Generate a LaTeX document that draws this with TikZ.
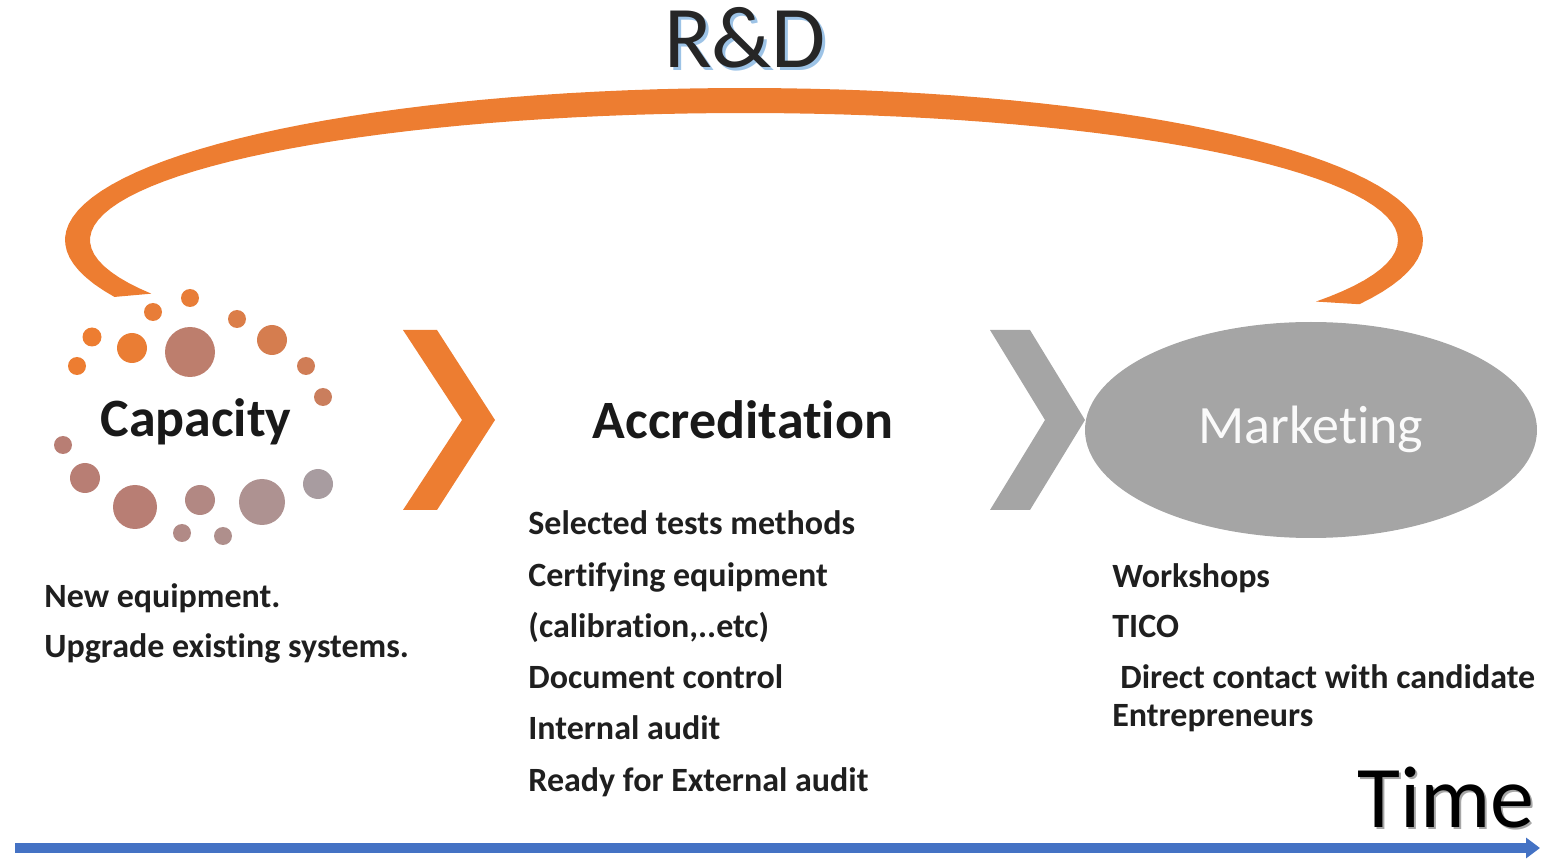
\documentclass[tikz,border=0pt]{standalone}
\usepackage{fontspec}
\setmainfont{Carlito}[Ligatures=NoCommon]
\usetikzlibrary{arrows.meta}
\usetikzlibrary{shapes.geometric}
\definecolor{rdorange}{HTML}{ED7D31}
\definecolor{rdgray}{HTML}{A5A5A5}
\definecolor{rdblue}{HTML}{4472C4}
\definecolor{rdshade}{HTML}{9DC3E6}
\definecolor{dotrose}{HTML}{B87E74}
\definecolor{dotgray}{HTML}{A89CA0}

\begin{document}
\begin{tikzpicture}[x=0.5pt, y=-0.5pt, line join=round,
  heading/.style={font=\fontsize{27}{32}\selectfont\bfseries, anchor=base, inner sep=0pt},
  bigword/.style={font=\fontsize{44}{50}\selectfont, anchor=base, inner sep=0pt},
  item/.style={font=\fontsize{17}{20}\selectfont\bfseries, anchor=base west, inner sep=0pt, text=black!88}]
  \useasboundingbox (0,0) rectangle (1555,861);
  % loop over the three stages
  \fill[rdorange] plot[domain=202:-25, samples=90] ({744+679*cos(\x)}, {240-152*sin(\x)})
    -- plot[domain=-29:205, samples=90] ({744+654*cos(\x)}, {240-127*sin(\x)}) -- cycle;
  \node (rdshadow) [bigword, text=rdshade] at (748,71) {R\&D};
  \node (rd) [bigword, text=black!85] at (745,68) {R\&D};
  % stage 1
  \foreach \px/\py/\r/\c in {190/298/9/rdorange!90!dotrose, 153/312/9/rdorange!90!dotrose,
      237/319/9/rdorange!65!dotrose, 92/337/9.5/rdorange, 132/348/15/rdorange!95!dotrose,
      190/352/25/dotrose!90!rdorange, 272/340/15/rdorange!55!dotrose, 77/366/9/rdorange,
      306/366/9/rdorange!45!dotrose, 323/397/9/rdorange!35!dotrose, 63/445/9/dotrose,
      85/478/15/dotrose, 135/507/22/dotrose, 200/500/15/dotrose!65!dotgray,
      262/502/23/dotrose!35!dotgray, 318/484/15/dotgray, 182/533/9/dotrose!60!dotgray,
      223/536/9/dotrose!45!dotgray}
    \fill[\c] (\px,\py) circle[radius=\r*0.5pt];
  \node (cap) [heading, text=black!90] at (196,437) {Capacity};
  \node (cap1) [item] at (44,607) {New equipment.};
  \node (cap2) [item] at (44,657) {Upgrade existing systems.};
  % stage 2
  \fill[rdorange] (403,330) -- (437,330) -- (495,420) -- (437,510) -- (403,510) -- (462,420) -- cycle;
  \node (acc) [heading, text=black!90] at (743,439) {Accreditation};
  \foreach \t [count=\i] in {Selected tests methods, Certifying equipment, {(calibration,..etc)},
      Document control, Internal audit, Ready for External audit}
    \node (acc\i) [item] at (528, {483.8+51.2*\i}) {\t};
  % stage 3
  \fill[rdgray] (990,330) -- (1030,330) -- (1085,420) -- (1030,510) -- (990,510) -- (1045,420) -- cycle;
  \node (mkt) [ellipse, fill=rdgray, minimum width=226pt, minimum height=108pt, inner sep=0pt] at (1311,430) {};
  \node (mktlabel) [heading, font=\fontsize{27}{32}\selectfont, text=white!94!rdgray] at (mkt.center) [yshift=-7pt] {Marketing};
  \node (mkt1) [item] at (1112,588) {Workshops};
  \node (mkt2) [item] at (1112,638) {TICO};
  \node (mkt3) [item] at (1120,688) {Direct contact with candidate};
  \node (mkt4) [item] at (1112,726) {Entrepreneurs};
  % time axis
  \coordinate (t0) at (15,848);
  \coordinate (t1) at (1540,848);
  \draw[rdblue, line width=5pt, -{Triangle[length=7pt, width=10pt]}] (t0) -- (t1);
  \node (timeshadow) [bigword, anchor=base west, text=black!35] at (1359,829) {Time};
  \node (time) [bigword, anchor=base west, text=black] at (1357,827) {Time};
\end{tikzpicture}
\end{document}
